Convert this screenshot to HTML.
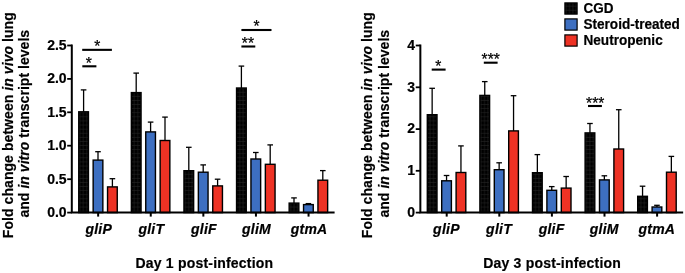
<!DOCTYPE html>
<html><head><meta charset="utf-8"><title>Fold change between in vivo lung and in vitro transcript levels</title>
<style>
html,body{margin:0;padding:0;background:#fff}
svg{display:block}
text{font-family:"Liberation Sans",Arial,Helvetica,sans-serif;fill:#000}
.b{font-size:14px;font-weight:bold;stroke:#000;stroke-width:0.2px}
.bi{font-size:14px;font-weight:bold;font-style:italic;stroke:#000;stroke-width:0.2px}
.i{font-style:italic}
.s{font-size:15.6px;font-weight:normal;stroke:#000;stroke-width:0.25px}
.l{font-size:14px;font-weight:bold;stroke:#000;stroke-width:0.2px}
</style></head><body>
<svg width="685" height="273" viewBox="0 0 685 273">
<defs><pattern id="grid" width="3.4" height="4.1" patternUnits="userSpaceOnUse"><rect width="3.4" height="4.1" fill="#000"/><path d="M1.7 0V4.1M0 2H3.4" stroke="#262626" stroke-width="0.55"/></pattern></defs>
<rect width="685" height="273" fill="#fff"/>
<path d="M83.60 89.90V112.10" stroke="#000" stroke-width="1.3" fill="none"/><path d="M80.80 89.90H86.40" stroke="#000" stroke-width="1.3" fill="none"/>
<rect x="78.75" y="111.80" width="9.70" height="100.80" fill="url(#grid)" stroke="#000" stroke-width="1.4"/>
<path d="M98.00 151.70V160.40" stroke="#000" stroke-width="1.3" fill="none"/><path d="M95.20 151.70H100.80" stroke="#000" stroke-width="1.3" fill="none"/>
<rect x="93.15" y="160.10" width="9.70" height="52.50" fill="#3d6fc1" stroke="#000" stroke-width="1.4"/>
<path d="M112.40 178.70V187.20" stroke="#000" stroke-width="1.3" fill="none"/><path d="M109.60 178.70H115.20" stroke="#000" stroke-width="1.3" fill="none"/>
<rect x="107.55" y="186.90" width="9.70" height="25.70" fill="#ee3224" stroke="#000" stroke-width="1.4"/>
<path d="M136.20 73.10V92.90" stroke="#000" stroke-width="1.3" fill="none"/><path d="M133.40 73.10H139.00" stroke="#000" stroke-width="1.3" fill="none"/>
<rect x="131.35" y="92.60" width="9.70" height="120.00" fill="url(#grid)" stroke="#000" stroke-width="1.4"/>
<path d="M150.60 122.10V132.20" stroke="#000" stroke-width="1.3" fill="none"/><path d="M147.80 122.10H153.40" stroke="#000" stroke-width="1.3" fill="none"/>
<rect x="145.75" y="131.90" width="9.70" height="80.70" fill="#3d6fc1" stroke="#000" stroke-width="1.4"/>
<path d="M165.00 117.10V140.80" stroke="#000" stroke-width="1.3" fill="none"/><path d="M162.20 117.10H167.80" stroke="#000" stroke-width="1.3" fill="none"/>
<rect x="160.15" y="140.50" width="9.70" height="72.10" fill="#ee3224" stroke="#000" stroke-width="1.4"/>
<path d="M188.80 147.30V171.00" stroke="#000" stroke-width="1.3" fill="none"/><path d="M186.00 147.30H191.60" stroke="#000" stroke-width="1.3" fill="none"/>
<rect x="183.95" y="170.70" width="9.70" height="41.90" fill="url(#grid)" stroke="#000" stroke-width="1.4"/>
<path d="M203.20 164.90V172.50" stroke="#000" stroke-width="1.3" fill="none"/><path d="M200.40 164.90H206.00" stroke="#000" stroke-width="1.3" fill="none"/>
<rect x="198.35" y="172.20" width="9.70" height="40.40" fill="#3d6fc1" stroke="#000" stroke-width="1.4"/>
<path d="M217.60 179.20V186.20" stroke="#000" stroke-width="1.3" fill="none"/><path d="M214.80 179.20H220.40" stroke="#000" stroke-width="1.3" fill="none"/>
<rect x="212.75" y="185.90" width="9.70" height="26.70" fill="#ee3224" stroke="#000" stroke-width="1.4"/>
<path d="M241.40 66.10V88.30" stroke="#000" stroke-width="1.3" fill="none"/><path d="M238.60 66.10H244.20" stroke="#000" stroke-width="1.3" fill="none"/>
<rect x="236.55" y="88.00" width="9.70" height="124.60" fill="url(#grid)" stroke="#000" stroke-width="1.4"/>
<path d="M255.80 152.50V159.30" stroke="#000" stroke-width="1.3" fill="none"/><path d="M253.00 152.50H258.60" stroke="#000" stroke-width="1.3" fill="none"/>
<rect x="250.95" y="159.00" width="9.70" height="53.60" fill="#3d6fc1" stroke="#000" stroke-width="1.4"/>
<path d="M270.20 144.90V164.60" stroke="#000" stroke-width="1.3" fill="none"/><path d="M267.40 144.90H273.00" stroke="#000" stroke-width="1.3" fill="none"/>
<rect x="265.35" y="164.30" width="9.70" height="48.30" fill="#ee3224" stroke="#000" stroke-width="1.4"/>
<path d="M294.00 197.90V203.40" stroke="#000" stroke-width="1.3" fill="none"/><path d="M291.20 197.90H296.80" stroke="#000" stroke-width="1.3" fill="none"/>
<rect x="289.15" y="203.10" width="9.70" height="9.50" fill="url(#grid)" stroke="#000" stroke-width="1.4"/>
<path d="M308.40 203.60V204.90" stroke="#000" stroke-width="1.3" fill="none"/><path d="M305.60 203.60H311.20" stroke="#000" stroke-width="1.3" fill="none"/>
<rect x="303.55" y="204.60" width="9.70" height="8.00" fill="#3d6fc1" stroke="#000" stroke-width="1.4"/>
<path d="M322.80 170.60V180.50" stroke="#000" stroke-width="1.3" fill="none"/><path d="M320.00 170.60H325.60" stroke="#000" stroke-width="1.3" fill="none"/>
<rect x="317.95" y="180.20" width="9.70" height="32.40" fill="#ee3224" stroke="#000" stroke-width="1.4"/>
<path d="M71.80 44.6V213.60M70.80 212.60H334.60" stroke="#000" stroke-width="2" fill="none"/>
<path d="M67.20 45.50H71.80" stroke="#000" stroke-width="1.8"/>
<text x="66.60" y="49.80" text-anchor="end" class="b">2.5</text>
<path d="M67.20 78.90H71.80" stroke="#000" stroke-width="1.8"/>
<text x="66.60" y="83.20" text-anchor="end" class="b">2.0</text>
<path d="M67.20 112.30H71.80" stroke="#000" stroke-width="1.8"/>
<text x="66.60" y="116.60" text-anchor="end" class="b">1.5</text>
<path d="M67.20 145.70H71.80" stroke="#000" stroke-width="1.8"/>
<text x="66.60" y="150.00" text-anchor="end" class="b">1.0</text>
<path d="M67.20 179.20H71.80" stroke="#000" stroke-width="1.8"/>
<text x="66.60" y="183.50" text-anchor="end" class="b">0.5</text>
<path d="M67.20 212.60H71.80" stroke="#000" stroke-width="1.8"/>
<text x="66.60" y="216.90" text-anchor="end" class="b">0.0</text>
<path d="M98.15 212.60V216.6" stroke="#000" stroke-width="2"/>
<text x="98.60" y="233.6" text-anchor="middle" class="bi" textLength="26.37">gliP</text>
<path d="M150.75 212.60V216.6" stroke="#000" stroke-width="2"/>
<text x="151.20" y="233.6" text-anchor="middle" class="bi" textLength="25.59">gliT</text>
<path d="M203.35 212.60V216.6" stroke="#000" stroke-width="2"/>
<text x="203.80" y="233.6" text-anchor="middle" class="bi" textLength="25.59">gliF</text>
<path d="M255.95 212.60V216.6" stroke="#000" stroke-width="2"/>
<text x="256.40" y="233.6" text-anchor="middle" class="bi" textLength="28.70">gliM</text>
<path d="M308.55 212.60V216.6" stroke="#000" stroke-width="2"/>
<text x="309.00" y="233.6" text-anchor="middle" class="bi" textLength="36.48">gtmA</text>
<text x="204.30" y="267.5" text-anchor="middle" class="b" textLength="137.6">Day 1 post-infection</text>
<text transform="translate(12.70,125.2) rotate(-90)" text-anchor="middle" class="b" textLength="226">Fold change between <tspan class="i">in vivo</tspan> lung</text>
<text transform="translate(28.90,123.7) rotate(-90)" text-anchor="middle" class="b" textLength="187.7">and <tspan class="i">in vitro</tspan> transcript levels</text>
<path d="M432.15 88.30V115.00" stroke="#000" stroke-width="1.3" fill="none"/><path d="M429.35 88.30H434.95" stroke="#000" stroke-width="1.3" fill="none"/>
<rect x="427.30" y="114.70" width="9.70" height="97.90" fill="url(#grid)" stroke="#000" stroke-width="1.4"/>
<path d="M446.55 175.50V181.10" stroke="#000" stroke-width="1.3" fill="none"/><path d="M443.75 175.50H449.35" stroke="#000" stroke-width="1.3" fill="none"/>
<rect x="441.70" y="180.80" width="9.70" height="31.80" fill="#3d6fc1" stroke="#000" stroke-width="1.4"/>
<path d="M460.95 145.90V172.80" stroke="#000" stroke-width="1.3" fill="none"/><path d="M458.15 145.90H463.75" stroke="#000" stroke-width="1.3" fill="none"/>
<rect x="456.10" y="172.50" width="9.70" height="40.10" fill="#ee3224" stroke="#000" stroke-width="1.4"/>
<path d="M484.75 81.60V95.70" stroke="#000" stroke-width="1.3" fill="none"/><path d="M481.95 81.60H487.55" stroke="#000" stroke-width="1.3" fill="none"/>
<rect x="479.90" y="95.40" width="9.70" height="117.20" fill="url(#grid)" stroke="#000" stroke-width="1.4"/>
<path d="M499.15 162.80V170.00" stroke="#000" stroke-width="1.3" fill="none"/><path d="M496.35 162.80H501.95" stroke="#000" stroke-width="1.3" fill="none"/>
<rect x="494.30" y="169.70" width="9.70" height="42.90" fill="#3d6fc1" stroke="#000" stroke-width="1.4"/>
<path d="M513.55 95.70V131.20" stroke="#000" stroke-width="1.3" fill="none"/><path d="M510.75 95.70H516.35" stroke="#000" stroke-width="1.3" fill="none"/>
<rect x="508.70" y="130.90" width="9.70" height="81.70" fill="#ee3224" stroke="#000" stroke-width="1.4"/>
<path d="M537.35 154.60V173.00" stroke="#000" stroke-width="1.3" fill="none"/><path d="M534.55 154.60H540.15" stroke="#000" stroke-width="1.3" fill="none"/>
<rect x="532.50" y="172.70" width="9.70" height="39.90" fill="url(#grid)" stroke="#000" stroke-width="1.4"/>
<path d="M551.75 186.60V190.60" stroke="#000" stroke-width="1.3" fill="none"/><path d="M548.95 186.60H554.55" stroke="#000" stroke-width="1.3" fill="none"/>
<rect x="546.90" y="190.30" width="9.70" height="22.30" fill="#3d6fc1" stroke="#000" stroke-width="1.4"/>
<path d="M566.15 176.50V188.40" stroke="#000" stroke-width="1.3" fill="none"/><path d="M563.35 176.50H568.95" stroke="#000" stroke-width="1.3" fill="none"/>
<rect x="561.30" y="188.10" width="9.70" height="24.50" fill="#ee3224" stroke="#000" stroke-width="1.4"/>
<path d="M589.95 123.50V133.20" stroke="#000" stroke-width="1.3" fill="none"/><path d="M587.15 123.50H592.75" stroke="#000" stroke-width="1.3" fill="none"/>
<rect x="585.10" y="132.90" width="9.70" height="79.70" fill="url(#grid)" stroke="#000" stroke-width="1.4"/>
<path d="M604.35 175.80V180.20" stroke="#000" stroke-width="1.3" fill="none"/><path d="M601.55 175.80H607.15" stroke="#000" stroke-width="1.3" fill="none"/>
<rect x="599.50" y="179.90" width="9.70" height="32.70" fill="#3d6fc1" stroke="#000" stroke-width="1.4"/>
<path d="M618.75 109.70V149.30" stroke="#000" stroke-width="1.3" fill="none"/><path d="M615.95 109.70H621.55" stroke="#000" stroke-width="1.3" fill="none"/>
<rect x="613.90" y="149.00" width="9.70" height="63.60" fill="#ee3224" stroke="#000" stroke-width="1.4"/>
<path d="M642.55 186.20V196.60" stroke="#000" stroke-width="1.3" fill="none"/><path d="M639.75 186.20H645.35" stroke="#000" stroke-width="1.3" fill="none"/>
<rect x="637.70" y="196.30" width="9.70" height="16.30" fill="url(#grid)" stroke="#000" stroke-width="1.4"/>
<path d="M656.95 205.30V207.30" stroke="#000" stroke-width="1.3" fill="none"/><path d="M654.15 205.30H659.75" stroke="#000" stroke-width="1.3" fill="none"/>
<rect x="652.10" y="207.00" width="9.70" height="5.60" fill="#3d6fc1" stroke="#000" stroke-width="1.4"/>
<path d="M671.35 156.40V172.50" stroke="#000" stroke-width="1.3" fill="none"/><path d="M668.55 156.40H674.15" stroke="#000" stroke-width="1.3" fill="none"/>
<rect x="666.50" y="172.20" width="9.70" height="40.40" fill="#ee3224" stroke="#000" stroke-width="1.4"/>
<path d="M420.35 44.6V213.60M419.35 212.60H683.15" stroke="#000" stroke-width="2" fill="none"/>
<path d="M415.75 45.50H420.35" stroke="#000" stroke-width="1.8"/>
<text x="415.15" y="49.80" text-anchor="end" class="b">4</text>
<path d="M415.75 87.30H420.35" stroke="#000" stroke-width="1.8"/>
<text x="415.15" y="91.60" text-anchor="end" class="b">3</text>
<path d="M415.75 129.10H420.35" stroke="#000" stroke-width="1.8"/>
<text x="415.15" y="133.40" text-anchor="end" class="b">2</text>
<path d="M415.75 170.80H420.35" stroke="#000" stroke-width="1.8"/>
<text x="415.15" y="175.10" text-anchor="end" class="b">1</text>
<path d="M415.75 212.60H420.35" stroke="#000" stroke-width="1.8"/>
<text x="415.15" y="216.90" text-anchor="end" class="b">0</text>
<path d="M446.70 212.60V216.6" stroke="#000" stroke-width="2"/>
<text x="446.30" y="233.6" text-anchor="middle" class="bi" textLength="26.37">gliP</text>
<path d="M499.30 212.60V216.6" stroke="#000" stroke-width="2"/>
<text x="498.90" y="233.6" text-anchor="middle" class="bi" textLength="25.59">gliT</text>
<path d="M551.90 212.60V216.6" stroke="#000" stroke-width="2"/>
<text x="551.50" y="233.6" text-anchor="middle" class="bi" textLength="25.59">gliF</text>
<path d="M604.50 212.60V216.6" stroke="#000" stroke-width="2"/>
<text x="604.10" y="233.6" text-anchor="middle" class="bi" textLength="28.70">gliM</text>
<path d="M657.10 212.60V216.6" stroke="#000" stroke-width="2"/>
<text x="656.70" y="233.6" text-anchor="middle" class="bi" textLength="36.48">gtmA</text>
<text x="552.00" y="267.5" text-anchor="middle" class="b" textLength="137.6">Day 3 post-infection</text>
<text transform="translate(372.40,125.2) rotate(-90)" text-anchor="middle" class="b" textLength="226">Fold change between <tspan class="i">in vivo</tspan> lung</text>
<text transform="translate(389.30,123.7) rotate(-90)" text-anchor="middle" class="b" textLength="187.7">and <tspan class="i">in vitro</tspan> transcript levels</text>
<path d="M82.20 49.85H111.90" stroke="#000" stroke-width="2.1"/><text x="97.20" y="52.30" text-anchor="middle" class="s">*</text><path d="M82.30 66.30H96.40" stroke="#000" stroke-width="2.1"/><text x="88.90" y="69.10" text-anchor="middle" class="s">*</text><path d="M241.40 30.00H271.50" stroke="#000" stroke-width="2.1"/><text x="256.60" y="32.10" text-anchor="middle" class="s">*</text><path d="M241.40 46.50H255.30" stroke="#000" stroke-width="2.1"/><text x="247.90" y="48.60" text-anchor="middle" class="s">**</text><path d="M431.70 69.60H445.60" stroke="#000" stroke-width="2.1"/><text x="438.40" y="71.80" text-anchor="middle" class="s">*</text><path d="M483.80 62.70H497.60" stroke="#000" stroke-width="2.1"/><text x="490.70" y="65.30" text-anchor="middle" class="s">***</text><path d="M588.00 106.00H601.90" stroke="#000" stroke-width="2.1"/><text x="595.20" y="108.50" text-anchor="middle" class="s">***</text>
<rect x="564.9" y="2.90" width="12.2" height="11.2" fill="url(#grid)" stroke="#000" stroke-width="1.2"/><text x="583.5" y="12.70" class="l" textLength="30.0" lengthAdjust="spacingAndGlyphs">CGD</text><rect x="564.9" y="18.90" width="12.2" height="11.2" fill="#3d6fc1" stroke="#000" stroke-width="1.2"/><text x="583.5" y="28.80" class="l" textLength="96.4" lengthAdjust="spacingAndGlyphs">Steroid-treated</text><rect x="564.9" y="34.90" width="12.2" height="11.2" fill="#ee3224" stroke="#000" stroke-width="1.2"/><text x="583.5" y="44.90" class="l" textLength="79.2" lengthAdjust="spacingAndGlyphs">Neutropenic</text>
</svg>
</body></html>
